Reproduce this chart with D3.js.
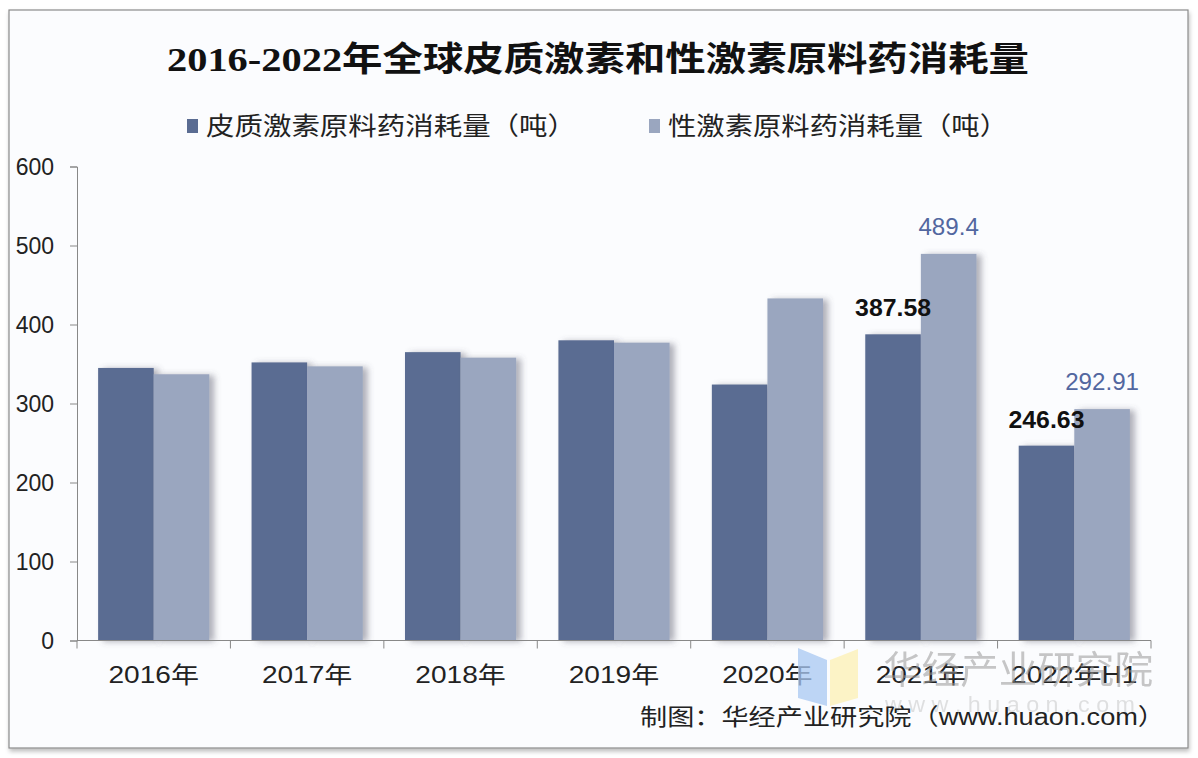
<!DOCTYPE html>
<html>
<head>
<meta charset="utf-8">
<script src="https://cdn.jsdelivr.net/npm/d3@7"></script>
<style>
body{margin:0;background:#fff;}
text{font-family:"Liberation Sans","Noto Sans CJK SC",sans-serif;}
</style>
</head>
<body>
<svg></svg>
<script>
var width=1198;
var height=758;

// data
var years=["2016年","2017年","2018年","2019年","2020年","2021年","2022年H1"];
var corticoid=[345,352,365,380,324,387.58,246.63];
var sexHormone=[337,347,358,377,433,489.4,292.91];
var seriesNames=["皮质激素原料药消耗量（吨）","性激素原料药消耗量（吨）"];
var yTicks=[0,100,200,300,400,500,600];
var labelled=["2021年","2022年H1"];

var colors=["#5a6c92","#9aa6bf"];

var svg=d3.select("svg")
	.attr("width",width)
	.attr("height",height);

var defs=svg.append("defs");
var f=defs.append("filter").attr("id","shadow")
	.attr("x","-20%").attr("y","-10%").attr("width","150%").attr("height","120%");
f.append("feDropShadow")
	.attr("dx",5).attr("dy",1)
	.attr("stdDeviation",3)
	.attr("flood-color","#556")
	.attr("flood-opacity",0.45);
var f2=defs.append("filter").attr("id","frameShadow");
f2.append("feDropShadow")
	.attr("dx",1).attr("dy",3)
	.attr("stdDeviation",2)
	.attr("flood-color","#000")
	.attr("flood-opacity",0.25);

// stretch text horizontally like the reference
function stretch(sel,k){
	sel.each(function(){
		var w=this.getComputedTextLength();
		d3.select(this).attr("textLength",w*k).attr("lengthAdjust","spacingAndGlyphs");
	});
}

// frame
svg.append("rect")
	.attr("x",9).attr("y",10)
	.attr("width",1179).attr("height",738)
	.attr("fill","#fbfcfe")
	.attr("stroke","#8a8a8a")
	.attr("stroke-width",1.2)
	.attr("filter","url(#frameShadow)");

// title
svg.append("text")
	.attr("x",598).attr("y",71)
	.attr("text-anchor","middle")
	.style("font-family","'Liberation Serif','Noto Sans CJK SC',serif")
	.style("font-weight","bold")
	.style("font-size","34px")
	.attr("fill","#111")
	.text("2016-2022年全球皮质激素和性激素原料药消耗量")
	.call(stretch,1.0)
	.attr("textLength",862);

// legend
var legendX=[187,649];
var legendW=[370,340];
seriesNames.forEach(function(name,i){
	svg.append("rect")
		.attr("x",legendX[i]).attr("y",119)
		.attr("width",11).attr("height",14)
		.attr("fill",colors[i]);
	svg.append("text")
		.attr("x",legendX[i]+19).attr("y",135)
		.style("font-size","25px")
		.attr("fill","#222")
		.text(name)
		.attr("textLength",legendW[i])
		.attr("lengthAdjust","spacingAndGlyphs");
});

// scales
var x0=d3.scaleBand()
	.domain(years)
	.range([77,1151]);

var x1=d3.scaleBand()
	.domain([0,1])
	.range([0,x0.bandwidth()])
	.paddingOuter(0.38);

var y=d3.scaleLinear()
	.domain([0,600])
	.range([640.5,166.5]);

// y axis
var yaxis=d3.axisLeft(y)
	.tickValues(yTicks)
	.tickSize(7)
	.tickPadding(16)
	.tickFormat(d3.format("d"));

var gy=svg.append("g")
	.attr("transform","translate(77,0)")
	.call(yaxis);
gy.select(".domain").attr("stroke","#888");
gy.selectAll(".tick line").attr("stroke","#888");
gy.selectAll(".tick text")
	.style("font-size","23px")
	.attr("fill","#222")
	.attr("dy","0.36em");

// bars
var rows=years.map(function(yr,i){return {year:yr,values:[corticoid[i],sexHormone[i]]};});

var groups=svg.append("g")
	.selectAll("g")
	.data(rows)
	.enter()
	.append("g")
	.attr("transform",d=>"translate("+x0(d.year)+",0)");

groups.selectAll("rect")
	.data(d=>d.values.map((v,k)=>({k:k,v:v})))
	.enter()
	.append("rect")
	.attr("x",d=>x1(d.k))
	.attr("y",d=>y(d.v))
	.attr("width",x1.bandwidth())
	.attr("height",d=>y(0)-y(d.v))
	.attr("fill",d=>colors[d.k])
	.attr("filter","url(#shadow)");

// x axis
var xaxis=d3.axisBottom(x0)
	.tickSize(0)
	.tickPadding(26);

var gx=svg.append("g")
	.attr("transform","translate(0,"+y(0)+")")
	.call(xaxis);
gx.select(".domain").remove();
gx.selectAll(".tick text")
	.style("font-size","23px")
	.attr("fill","#222")
	.call(stretch,1.22);

svg.append("line")
	.attr("x1",77).attr("x2",1151)
	.attr("y1",y(0)).attr("y2",y(0))
	.attr("stroke","#888");

svg.append("g")
	.selectAll("line")
	.data(years.concat(["end"]))
	.enter()
	.append("line")
	.attr("x1",d=>d=="end"?1151:x0(d))
	.attr("x2",d=>d=="end"?1151:x0(d))
	.attr("y1",y(0))
	.attr("y2",y(0)+8)
	.attr("stroke","#888");

// value labels
var labelRows=rows.filter(d=>labelled.indexOf(d.year)>=0);
labelRows.forEach(function(d){
	svg.append("text")
		.attr("x",x0(d.year)+x1(0)+x1.bandwidth()/2)
		.attr("y",y(d.values[0])-18)
		.attr("text-anchor","middle")
		.style("font-size","23px")
		.style("font-weight","bold")
		.attr("fill","#111")
		.text(d.values[0])
		.call(stretch,1.08);
	svg.append("text")
		.attr("x",x0(d.year)+x1(1)+x1.bandwidth()/2)
		.attr("y",y(d.values[1])-19)
		.attr("text-anchor","middle")
		.style("font-size","23px")
		.attr("fill","#5267a0")
		.text(d.values[1])
		.call(stretch,1.05);
});

// watermark
var wm=svg.append("g").attr("opacity",0.75);
wm.append("polygon")
	.attr("points","798,648 827,660 827,706 798,698")
	.attr("fill","#a9c8f2");
wm.append("polygon")
	.attr("points","830,660 858,649 858,698 830,706")
	.attr("fill","#fdf0b4");
svg.append("text")
	.attr("x",883).attr("y",683)
	.style("font-size","38px")
	.attr("fill","#999")
	.attr("opacity",0.55)
	.text("华经产业研究院")
	.attr("textLength",270)
	.attr("lengthAdjust","spacingAndGlyphs");
svg.append("text")
	.attr("x",885).attr("y",712)
	.style("font-size","22px")
	.attr("fill","#aaa")
	.attr("opacity",0.35)
	.text("w w w . h u a o n . c o m")
	.attr("textLength",250)
	.attr("lengthAdjust","spacingAndGlyphs");

// source
svg.append("text")
	.attr("x",1165).attr("y",725)
	.attr("text-anchor","end")
	.style("font-size","23px")
	.attr("fill","#222")
	.text("制图：华经产业研究院（www.huaon.com）")
	.attr("textLength",525)
	.attr("lengthAdjust","spacingAndGlyphs");
</script>
</body>
</html>
